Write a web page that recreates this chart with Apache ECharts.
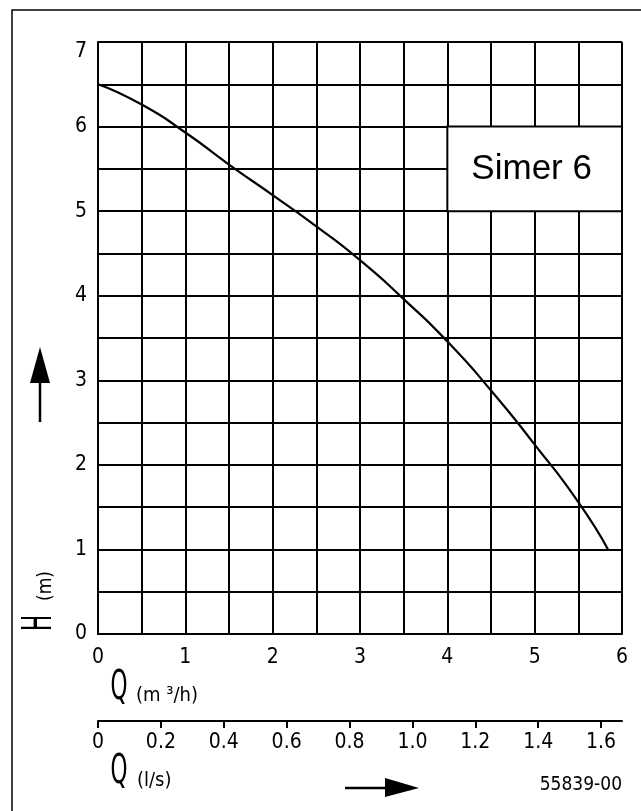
<!DOCTYPE html>
<html lang="en">
<head>
    <meta charset="UTF-8">
    <title>Simer 6</title>
    <script src="https://cdn.jsdelivr.net/npm/echarts@6/dist/echarts.min.js"></script>
    <style>
        html, body { margin: 0; padding: 0; background: #fff; }
        #main { width: 641px; height: 811px; }
    </style>
</head>
<body>
    <div id="main"></div>
    <script type="text/javascript">
        // pump curve: Q in m3/h, H in m
        var flowM3h = [0, 0.5, 1.0, 1.5, 2.0, 2.5, 3.0, 3.5, 4.0, 4.5, 5.0, 5.5, 5.84];
        var headM = [6.5, 6.26, 5.93, 5.55, 5.19, 4.82, 4.42, 3.96, 3.46, 2.88, 2.24, 1.56, 1.0];
        // second flow scale in l/s
        var flowLsTicks = [0, 0.2, 0.4, 0.6, 0.8, 1.0, 1.2, 1.4, 1.6];

        var ink = '#000';
        var techFont = 'DejaVu Sans Condensed';

        var myChart = echarts.init(document.getElementById('main'));

        var curve = flowM3h.map(function (q, i) {
            return [q, headM[i]];
        });

        var option = {
            backgroundColor: '#fff',
            animation: false,
            grid: [
                { left: 98, top: 42, right: 19, bottom: 177 },
                { left: 98, top: 720, right: 19, height: 1 }
            ],
            xAxis: [{
                type: 'value',
                gridIndex: 0,
                min: 0,
                max: 6,
                interval: 0.5,
                axisLine: { show: true, lineStyle: { color: ink, width: 2 } },
                axisTick: { show: false },
                splitLine: { show: true, lineStyle: { color: ink, width: 2 } },
                axisLabel: {
                    margin: 13,
                    color: ink,
                    fontFamily: techFont,
                    fontSize: 21,
                    formatter: function (v) {
                        return v % 1 === 0 ? String(v) : '';
                    }
                }
            }, {
                type: 'value',
                gridIndex: 1,
                position: 'bottom',
                min: 0,
                max: 6 / 3.6,
                axisLine: { show: true, lineStyle: { color: ink, width: 2 } },
                axisTick: {
                    show: true,
                    length: 7,
                    customValues: flowLsTicks,
                    lineStyle: { color: ink, width: 2 }
                },
                splitLine: { show: false },
                axisLabel: {
                    margin: 11,
                    color: ink,
                    fontFamily: techFont,
                    fontSize: 21,
                    customValues: flowLsTicks,
                    formatter: function (v) {
                        return v === 0 ? '0' : v.toFixed(1);
                    }
                }
            }],
            yAxis: [{
                type: 'value',
                gridIndex: 0,
                min: 0,
                max: 7,
                interval: 0.5,
                axisLine: { show: true, lineStyle: { color: ink, width: 2 } },
                axisTick: { show: false },
                splitLine: { show: true, lineStyle: { color: ink, width: 2 } },
                axisLabel: {
                    margin: 11,
                    color: ink,
                    fontFamily: techFont,
                    fontSize: 21,
                    formatter: function (v) {
                        if (v === 7) return '{top|7}';
                        return v % 1 === 0 ? String(v) : '';
                    },
                    rich: {
                        top: {
                            fontFamily: techFont,
                            fontSize: 21,
                            color: ink,
                            padding: [20, 0, 0, 0]
                        }
                    }
                }
            }, {
                type: 'value',
                gridIndex: 1,
                show: false,
                min: 0,
                max: 1
            }],
            series: [{
                type: 'line',
                xAxisIndex: 0,
                yAxisIndex: 0,
                data: curve,
                smooth: 0.6,
                showSymbol: false,
                lineStyle: { color: ink, width: 2.2 },
                markArea: {
                    silent: true,
                    itemStyle: {
                        color: '#fff',
                        opacity: 1,
                        borderColor: ink,
                        borderWidth: 2
                    },
                    label: {
                        show: true,
                        position: 'inside',
                        offset: [-3, 0],
                        color: ink,
                        fontFamily: 'Liberation Sans',
                        fontSize: 35
                    },
                    data: [[
                        { name: 'Simer 6', xAxis: 4, yAxis: 6 },
                        { xAxis: 6, yAxis: 5 }
                    ]]
                }
            }],
            graphic: [
                // sheet frame
                {
                    type: 'rect',
                    shape: { x: 12, y: 10, width: 700, height: 900 },
                    style: { fill: 'none', stroke: ink, lineWidth: 1.5 }
                },
                // H arrow
                {
                    type: 'line',
                    shape: { x1: 40, y1: 422, x2: 40, y2: 378 },
                    style: { stroke: ink, lineWidth: 2.5 }
                },
                {
                    type: 'polygon',
                    shape: { points: [[40, 347], [30, 383], [50, 383]] },
                    style: { fill: ink }
                },
                {
                    type: 'text',
                    x: 41, y: 623,
                    rotation: Math.PI / 2,
                    scaleX: 0.6,
                    style: {
                        text: 'H', fill: ink, fontFamily: techFont, fontSize: 40,
                        align: 'center', verticalAlign: 'middle'
                    }
                },
                {
                    type: 'text',
                    x: 46, y: 586,
                    rotation: Math.PI / 2,
                    style: {
                        text: '(m)', fill: ink, fontFamily: techFont, fontSize: 19,
                        align: 'center', verticalAlign: 'middle'
                    }
                },
                // Q (m3/h)
                {
                    type: 'text',
                    x: 119, y: 689,
                    scaleX: 0.6,
                    style: {
                        text: 'Q', fill: ink, fontFamily: techFont, fontSize: 40,
                        align: 'center', verticalAlign: 'middle'
                    }
                },
                {
                    type: 'text',
                    x: 136, y: 696,
                    style: {
                        text: '(m ³/h)', fill: ink, fontFamily: techFont, fontSize: 20,
                        align: 'left', verticalAlign: 'middle'
                    }
                },
                // Q (l/s)
                {
                    type: 'text',
                    x: 119, y: 773,
                    scaleX: 0.6,
                    style: {
                        text: 'Q', fill: ink, fontFamily: techFont, fontSize: 40,
                        align: 'center', verticalAlign: 'middle'
                    }
                },
                {
                    type: 'text',
                    x: 137, y: 781,
                    style: {
                        text: '(l/s)', fill: ink, fontFamily: techFont, fontSize: 20,
                        align: 'left', verticalAlign: 'middle'
                    }
                },
                // Q arrow
                {
                    type: 'line',
                    shape: { x1: 345, y1: 788, x2: 390, y2: 788 },
                    style: { stroke: ink, lineWidth: 2.5 }
                },
                {
                    type: 'polygon',
                    shape: { points: [[385, 778], [419, 788], [385, 797]] },
                    style: { fill: ink }
                },
                {
                    type: 'text',
                    x: 622, y: 785,
                    style: {
                        text: '55839-00', fill: ink, fontFamily: techFont, fontSize: 19,
                        align: 'right', verticalAlign: 'middle'
                    }
                }
            ]
        };

        myChart.setOption(option);
    </script>
</body>
</html>
